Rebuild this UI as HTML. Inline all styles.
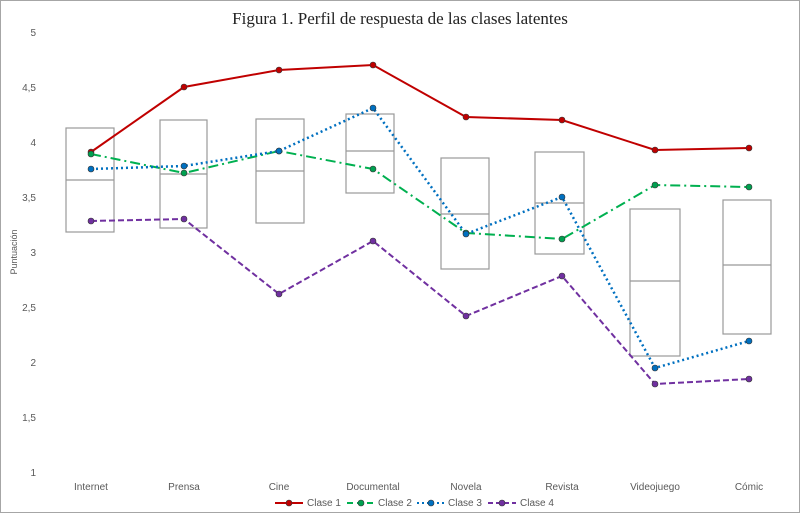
<!DOCTYPE html>
<html><head><meta charset="utf-8"><style>
body{margin:0;background:#fff}
svg{display:block}
text{font-family:"Liberation Sans",sans-serif;fill:#595959;font-size:10px}
</style></head><body>
<svg width="800" height="513" viewBox="0 0 800 513">
<rect x="0.5" y="0.5" width="799" height="512" fill="#fff" stroke="#a6a6a6"/>
<text x="400" y="24" text-anchor="middle" style="font-family:'Liberation Serif',serif;font-size:17px;fill:#222">Figura 1. Perfil de respuesta de las clases latentes</text>
<g text-anchor="end">
<text x="36" y="36">5</text><text x="36" y="91">4,5</text><text x="36" y="146">4</text><text x="36" y="201">3,5</text><text x="36" y="256">3</text><text x="36" y="311">2,5</text><text x="36" y="366">2</text><text x="36" y="421">1,5</text><text x="36" y="476">1</text>
</g>
<text transform="translate(17,252) rotate(-90)" text-anchor="middle" style="font-size:9px">Puntuación</text>
<g text-anchor="middle">
<text x="91" y="490">Internet</text><text x="184" y="490">Prensa</text><text x="279" y="490">Cine</text><text x="373" y="490">Documental</text><text x="466" y="490">Novela</text><text x="562" y="490">Revista</text><text x="655" y="490">Videojuego</text><text x="749" y="490">Cómic</text>
</g>
<g fill="none" stroke="#999" stroke-width="1.2">
<rect x="66" y="128" width="48" height="104"/><line x1="66" y1="180" x2="114" y2="180"/>
<rect x="160" y="120" width="47" height="108"/><line x1="160" y1="174" x2="207" y2="174"/>
<rect x="256" y="119" width="48" height="104"/><line x1="256" y1="171" x2="304" y2="171"/>
<rect x="346" y="114" width="48" height="79"/><line x1="346" y1="151" x2="394" y2="151"/>
<rect x="441" y="158" width="48" height="111"/><line x1="441" y1="214" x2="489" y2="214"/>
<rect x="535" y="152" width="49" height="102"/><line x1="535" y1="203" x2="584" y2="203"/>
<rect x="630" y="209" width="50" height="147"/><line x1="630" y1="281" x2="680" y2="281"/>
<rect x="723" y="200" width="48" height="134"/><line x1="723" y1="265" x2="771" y2="265"/>
</g>
<g fill="none" stroke-width="2">
<polyline stroke="#c00000" points="91,152 184,87 279,70 373,65 466,117 562,120 655,150 749,148"/>
<polyline stroke="#00b050" stroke-dasharray="10,4,2,4" points="91,154 184,173 279,151 373,169 466,233 562,239 655,185 749,187"/>
<polyline stroke="#0070c0" stroke-dasharray="2,3" stroke-width="2.5" points="91,169 184,166 279,151 373,108 466,234 562,197 655,368 749,341"/>
<polyline stroke="#7030a0" stroke-dasharray="6,3" points="91,221 184,219 279,294 373,241 466,316 562,276 655,384 749,379"/>
</g>
<g stroke="#333" stroke-width="0.6">
<g fill="#c00000"><circle cx="91" cy="152" r="3"/><circle cx="184" cy="87" r="3"/><circle cx="279" cy="70" r="3"/><circle cx="373" cy="65" r="3"/><circle cx="466" cy="117" r="3"/><circle cx="562" cy="120" r="3"/><circle cx="655" cy="150" r="3"/><circle cx="749" cy="148" r="3"/></g>
<g fill="#00a050"><circle cx="91" cy="154" r="3"/><circle cx="184" cy="173" r="3"/><circle cx="279" cy="151" r="3"/><circle cx="373" cy="169" r="3"/><circle cx="466" cy="233" r="3"/><circle cx="562" cy="239" r="3"/><circle cx="655" cy="185" r="3"/><circle cx="749" cy="187" r="3"/></g>
<g fill="#0070c0"><circle cx="91" cy="169" r="3"/><circle cx="184" cy="166" r="3"/><circle cx="279" cy="151" r="3"/><circle cx="373" cy="108" r="3"/><circle cx="466" cy="234" r="3"/><circle cx="562" cy="197" r="3"/><circle cx="655" cy="368" r="3"/><circle cx="749" cy="341" r="3"/></g>
<g fill="#7030a0"><circle cx="91" cy="221" r="3"/><circle cx="184" cy="219" r="3"/><circle cx="279" cy="294" r="3"/><circle cx="373" cy="241" r="3"/><circle cx="466" cy="316" r="3"/><circle cx="562" cy="276" r="3"/><circle cx="655" cy="384" r="3"/><circle cx="749" cy="379" r="3"/></g>
</g>
<g stroke-width="2" fill="none">
<line x1="275" y1="503" x2="303" y2="503" stroke="#c00000"/>
<line x1="347" y1="503" x2="375" y2="503" stroke="#00b050" stroke-dasharray="6,4"/>
<line x1="417" y1="503" x2="445" y2="503" stroke="#0070c0" stroke-dasharray="2,3"/>
<line x1="488" y1="503" x2="516" y2="503" stroke="#7030a0" stroke-dasharray="5,3"/>
</g>
<g stroke="#333" stroke-width="0.6">
<circle cx="289" cy="503" r="3" fill="#c00000"/><circle cx="361" cy="503" r="3" fill="#00a050"/><circle cx="431" cy="503" r="3" fill="#0070c0"/><circle cx="502" cy="503" r="3" fill="#7030a0"/>
</g>
<g style="font-size:9px">
<text x="307" y="506">Clase 1</text><text x="378" y="506">Clase 2</text><text x="448" y="506">Clase 3</text><text x="520" y="506">Clase 4</text>
</g>
</svg>
</body></html>
